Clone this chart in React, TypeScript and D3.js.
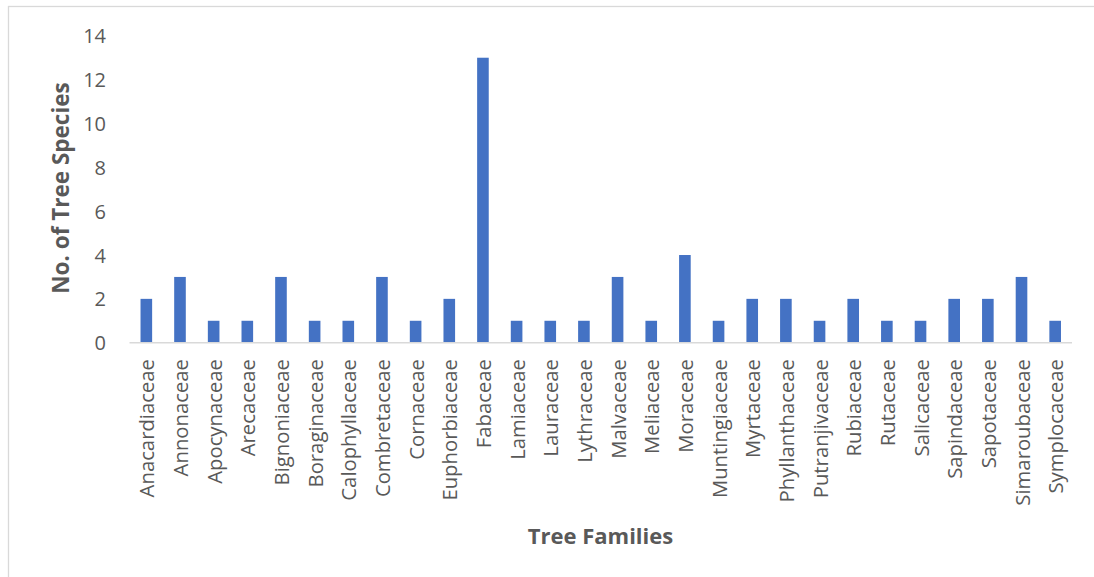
import React from "react";
import * as d3 from "d3";

// Tree families and the number of tree species recorded in each
const families: string[] = [
  "Anacardiaceae", "Annonaceae", "Apocynaceae", "Arecaceae", "Bignoniaceae",
  "Boraginaceae", "Calophyllaceae", "Combretaceae", "Cornaceae", "Euphorbiaceae",
  "Fabaceae", "Lamiaceae", "Lauraceae", "Lythraceae", "Malvaceae", "Meliaceae",
  "Moraceae", "Muntingiaceae", "Myrtaceae", "Phyllanthaceae", "Putranjivaceae",
  "Rubiaceae", "Rutaceae", "Salicaceae", "Sapindaceae", "Sapotaceae",
  "Simaroubaceae", "Symplocaceae",
];
const speciesCounts: number[] = [
  2, 3, 1, 1, 3, 1, 1, 3, 1, 2, 13, 1, 1, 1, 3, 1, 4, 1, 2, 2, 1, 2, 1, 1, 2, 2, 3, 1,
];
const yTicks: number[] = [0, 2, 4, 6, 8, 10, 12, 14];

const W = 1094;
const H = 577;
const FONT = "'Open Sans', 'DejaVu Sans', sans-serif";
const TEXT = "#595959";
const BAR = "#4472C4";

export default function App() {
  const plotLeft = 129.5;
  const plotRight = 1072;
  const plotBottom = 342.7;
  const plotTop = 35.8;

  const x = d3
    .scaleBand<string>()
    .domain(families)
    .range([plotLeft, plotRight])
    .paddingInner(0.655)
    .paddingOuter(0.3275);
  const y = d3.scaleLinear().domain([0, 14]).range([plotBottom, plotTop]);

  const data = families.map((f, i) => ({ family: f, count: speciesCounts[i] }));

  return (
    <div style={{ position: "absolute", left: 0, top: 0 }}>
      <svg width={W} height={H} style={{ display: "block", background: "#fff" }}>
        {/* chart frame */}
        <rect x={8.5} y={6.5} width={W + 20} height={H + 20} fill="#fff" stroke="#d9d9d9" strokeWidth={1.3} />

        {/* y tick labels */}
        {yTicks.map((t) => (
          <text
            key={t}
            x={106}
            y={y(t)}
            textAnchor="end"
            dominantBaseline="central"
            fontFamily={FONT}
            fontSize={20}
            fill={TEXT}
          >
            {t}
          </text>
        ))}

        {/* bars */}
        {data.map((d) => (
          <rect
            key={d.family}
            x={x(d.family)}
            y={y(d.count)}
            width={x.bandwidth()}
            height={y(0) - y(d.count)}
            fill={BAR}
          />
        ))}

        {/* category axis line */}
        <line x1={plotLeft} x2={plotRight} y1={plotBottom} y2={plotBottom} stroke="#d9d9d9" strokeWidth={1.5} />

        {/* category labels */}
        {data.map((d) => {
          const cx = (x(d.family) as number) + x.bandwidth() / 2;
          return (
            <text
              key={d.family}
              transform={`translate(${cx},359) rotate(-90)`}
              textAnchor="end"
              dominantBaseline="central"
              fontFamily={FONT}
              fontSize={20.3}
              fill={TEXT}
            >
              {d.family}
            </text>
          );
        })}

        {/* axis titles */}
        <text
          x={600.5}
          y={535}
          textAnchor="middle"
          dominantBaseline="central"
          fontFamily={FONT}
          fontWeight="bold"
          fontSize={22}
          fill={TEXT}
        >
          Tree Families
        </text>
        <text
          transform={`translate(60,188) rotate(-90)`}
          textAnchor="middle"
          dominantBaseline="central"
          fontFamily={FONT}
          fontWeight="bold"
          fontSize={22.5}
          fill={TEXT}
        >
          No. of Tree Species
        </text>
      </svg>
    </div>
  );
}
